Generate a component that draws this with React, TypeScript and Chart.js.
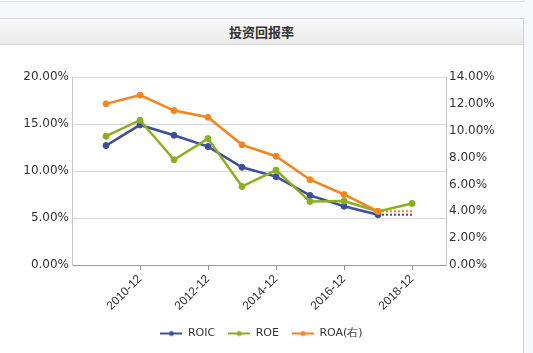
import React, { useEffect, useRef } from 'react';
import { Chart, registerables } from 'chart.js';

Chart.register(...registerables);

const title = '投资回报率';
const categories = ['2009-12', '2010-12', '2011-12', '2012-12', '2013-12', '2014-12', '2015-12', '2016-12', '2017-12', '2018-12'];
const tickLabels = ['2010-12', '2012-12', '2014-12', '2016-12', '2018-12'];
const axisRange = ['2008-12', '2019-12'];
const roic: (number | null)[] = [12.7, 14.9, 13.8, 12.6, 10.4, 9.4, 7.4, 6.25, 5.35, null];
const roe: (number | null)[] = [13.7, 15.4, 11.2, 13.45, 8.35, 10.1, 6.75, 6.8, 5.7, 6.55];
const roa: (number | null)[] = [12.0, 12.65, 11.5, 11.0, 8.95, 8.1, 6.35, 5.25, 4.0, null];
const leftTicks = [0, 5, 10, 15, 20];
const rightTicks = [0, 2, 4, 6, 8, 10, 12, 14];
const seriesNames = ['ROIC', 'ROE', 'ROA(右)'];
const colors = ['#3d4e9c', '#8cae1c', '#f7841a'];

const yearOf = (s: string) => parseInt(s, 10);

function toPoints(vals: (number | null)[]) {
  return categories.map((c, i) => ({ x: yearOf(c), y: vals[i] }));
}

function extension(vals: (number | null)[]) {
  let last = -1;
  vals.forEach((v, i) => { if (v !== null) last = i; });
  if (last < 0 || last === categories.length - 1) return [];
  return [
    { x: yearOf(categories[last]), y: vals[last] as number },
    { x: yearOf(categories[categories.length - 1]), y: vals[last] as number },
  ];
}

function legendIcon(color: string) {
  const c = document.createElement('canvas');
  c.width = 22;
  c.height = 8;
  const ctx = c.getContext('2d')!;
  ctx.strokeStyle = color;
  ctx.lineWidth = 2;
  ctx.beginPath();
  ctx.moveTo(0, 4);
  ctx.lineTo(22, 4);
  ctx.stroke();
  ctx.fillStyle = color;
  ctx.beginPath();
  ctx.arc(11, 4, 2.5, 0, Math.PI * 2);
  ctx.fill();
  return c;
}

export default function App() {
  const ref = useRef<HTMLCanvasElement | null>(null);

  useEffect(() => {
    if (!ref.current) return;
    const icons = colors.map(legendIcon);
    const tickFont = { family: 'DejaVu Sans', size: 12 };
    const mk = (i: number, vals: (number | null)[], axis: string, order: number) => ({
      label: seriesNames[i],
      data: toPoints(vals),
      yAxisID: axis,
      borderColor: colors[i],
      backgroundColor: colors[i],
      pointBackgroundColor: colors[i],
      pointBorderColor: colors[i],
      borderWidth: 2.5,
      pointRadius: 3,
      pointBorderWidth: 1,
      tension: 0,
      spanGaps: false,
      order,
    });
    const ext = (i: number, vals: (number | null)[], axis: string) => ({
      label: seriesNames[i] + '-ext',
      data: extension(vals),
      yAxisID: axis,
      borderColor: colors[i],
      borderWidth: 2,
      borderDash: [2, 2],
      pointRadius: 0,
      order: 5,
    });
    const chart = new Chart(ref.current, {
      type: 'line',
      data: {
        datasets: [
          mk(0, roic, 'yL', 2),
          mk(1, roe, 'yL', 1),
          mk(2, roa, 'yR', 0),
          ext(0, roic, 'yL'),
          ext(2, roa, 'yR'),
        ] as any,
      },
      options: {
        animation: false,
        responsive: true,
        maintainAspectRatio: false,
        layout: { padding: { top: 33, left: 0, right: 0, bottom: 4 } },
        plugins: {
          title: { display: false },
          tooltip: { enabled: false },
          legend: {
            position: 'bottom',
            labels: {
              usePointStyle: true,
              pointStyleWidth: 22,
              padding: 13,
              color: '#333',
              font: { family: 'DejaVu Sans', size: 11 },
              generateLabels: (ch: any) => {
                const items = Chart.defaults.plugins.legend.labels.generateLabels(ch);
                return items
                  .filter((it: any) => it.datasetIndex < 3)
                  .sort((a: any, b: any) => a.datasetIndex - b.datasetIndex)
                  .map((it: any) => ({ ...it, pointStyle: icons[it.datasetIndex], lineWidth: 0 }));
              },
            },
          },
        },
        scales: {
          x: {
            type: 'linear',
            min: yearOf(axisRange[0]),
            max: yearOf(axisRange[1]),
            afterBuildTicks: (scale: any) => {
              scale.ticks = tickLabels.map((t) => ({ value: yearOf(t) }));
            },
            afterFit: (scale: any) => { scale.height = 50; },
            ticks: {
              autoSkip: false,
              minRotation: 45,
              maxRotation: 45,
              padding: 2,
              color: '#333',
              font: { family: 'Liberation Sans', size: 12 },
              callback: (v: any) => tickLabels.find((t) => yearOf(t) === v) ?? '',
            },
            grid: { display: true, drawOnChartArea: false, drawTicks: true, tickLength: 5, color: '#999' },
            border: { display: true, color: '#999' },
          },
          yL: {
            type: 'linear',
            position: 'left',
            min: leftTicks[0],
            max: leftTicks[leftTicks.length - 1],
            afterBuildTicks: (scale: any) => { scale.ticks = leftTicks.map((v) => ({ value: v })); },
            afterFit: (scale: any) => { scale.width = 72; },
            ticks: {
              padding: 3,
              color: '#333',
              font: tickFont,
              callback: (v: any) => Number(v).toFixed(2) + '%',
            },
            grid: { color: '#d8d8d8', drawTicks: false },
            border: { display: true, color: '#c8c8c8' },
          },
          yR: {
            type: 'linear',
            position: 'right',
            min: rightTicks[0],
            max: rightTicks[rightTicks.length - 1],
            afterBuildTicks: (scale: any) => { scale.ticks = rightTicks.map((v) => ({ value: v })); },
            afterFit: (scale: any) => { scale.width = 77; },
            ticks: {
              padding: 3,
              color: '#333',
              font: tickFont,
              callback: (v: any) => Number(v).toFixed(2) + '%',
            },
            grid: { drawOnChartArea: false, drawTicks: false },
            border: { display: true, color: '#c8c8c8' },
          },
        },
      } as any,
    });
    return () => chart.destroy();
  }, []);

  return (
    <div style={{ position: 'fixed', left: 0, top: 0, width: 533, height: 353, background: '#f6f8fb', overflow: 'hidden' }}>
      <div style={{ position: 'absolute', left: 0, top: 0, width: 523, height: 1, borderBottom: '1px solid #dcdcdc', borderRight: '1px solid #dcdcdc', background: '#fff' }} />
      <div style={{ position: 'absolute', left: 0, top: 18, width: 523, height: 335, background: '#fff', borderRight: '1px solid #d0d0d0' }}>
        <div style={{
          position: 'absolute', left: 0, top: 0, width: 523, height: 25,
          borderTop: '1px solid #d6d6d6', borderBottom: '1px solid #d6d6d6',
          background: 'linear-gradient(#fafafa, #eaeaea)',
          textAlign: 'center', lineHeight: '25px',
          fontFamily: '"Noto Sans CJK SC", sans-serif', fontWeight: 'bold', fontSize: 13, color: '#333',
        }}>{title}</div>
        <div style={{ position: 'absolute', left: 0, top: 26, width: 523, height: 309 }}>
          <canvas ref={ref} />
        </div>
      </div>
    </div>
  );
}
